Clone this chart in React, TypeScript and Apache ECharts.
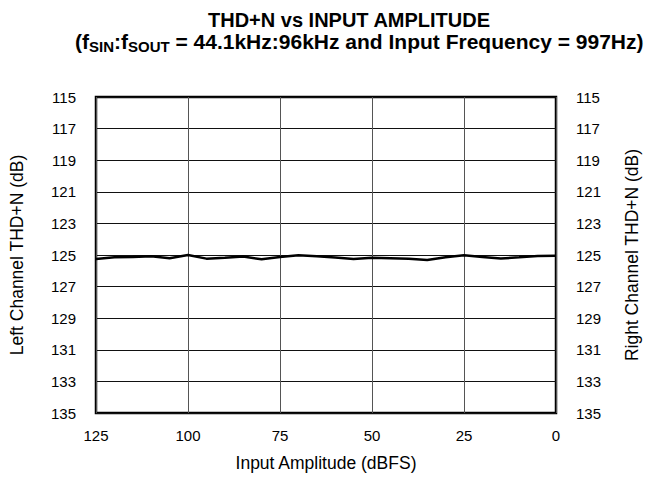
import React, { useEffect, useRef } from "react";
import * as echarts from "echarts";

const amplitudes = [125, 120, 115, 110, 105, 100, 95, 90, 85, 80, 75, 70, 65, 60, 55, 50, 45, 40, 35, 30, 25, 20, 15, 10, 5, 0];
const thdn = [125.25, 125.15, 125.12, 125.08, 125.2, 125.0, 125.23, 125.18, 125.1, 125.27, 125.12, 125.02, 125.08, 125.16, 125.25, 125.18, 125.2, 125.23, 125.32, 125.14, 125.02, 125.12, 125.22, 125.15, 125.06, 125.04];

const titleLine1 = "THD+N vs INPUT AMPLITUDE";
const titleLine2 = "{n|(f}{s|SIN}{n|:f}{s|SOUT}{n| = 44.1kHz:96kHz and Input Frequency = 997Hz)}";
const xName = "Input Amplitude (dBFS)";
const yLeftName = "Left Channel THD+N (dB)";
const yRightName = "Right Channel THD+N (dB)";

const FONT = "'Liberation Sans', Arial, Helvetica, sans-serif";

export default function App() {
  const ref = useRef<HTMLDivElement>(null);
  useEffect(() => {
    if (!ref.current) return;
    const chart = echarts.init(ref.current, undefined, { renderer: "svg" });
    const yAxisBase = {
      type: "value" as const,
      inverse: true,
      min: 115,
      max: 135,
      interval: 2,
      nameLocation: "middle" as const,
      nameRotate: 90,
      nameTextStyle: { fontSize: 17.5, color: "#000", fontFamily: FONT },
      axisLine: { show: false },
      axisTick: { show: false },
      axisLabel: { fontSize: 15, color: "#000", fontFamily: FONT, margin: 20 },
    };
    chart.setOption({
      animation: false,
      backgroundColor: "#fff",
      title: [
        {
          text: titleLine1,
          left: 203,
          top: 5,
          textStyle: { fontSize: 20, fontWeight: "bold", color: "#000", fontFamily: FONT },
        },
        {
          text: titleLine2,
          left: 70,
          top: 26,
          textStyle: {
            fontSize: 21,
            fontWeight: "bold",
            color: "#000",
            fontFamily: FONT,
            rich: {
              n: { fontSize: 21, fontWeight: "bold", fontFamily: FONT, color: "#000", verticalAlign: "top", lineHeight: 23 },
              s: { fontSize: 15, fontWeight: "bold", fontFamily: FONT, color: "#000", verticalAlign: "bottom", lineHeight: 15, padding: [11, 0, 0, 0] },
            },
          },
        },
      ],
      grid: {
        left: 93,
        right: 85,
        top: 97,
        bottom: 62,
        show: true,
        borderColor: "#000",
        borderWidth: 2.5,
        backgroundColor: "transparent",
      },
      xAxis: {
        type: "value",
        inverse: true,
        min: 0,
        max: 125,
        interval: 25,
        name: xName,
        nameLocation: "middle",
        nameGap: 41,
        nameTextStyle: { fontSize: 17.5, color: "#000", fontFamily: FONT },
        axisLine: { show: false },
        axisTick: { show: false },
        axisLabel: { fontSize: 15, color: "#000", fontFamily: FONT, margin: 15 },
        splitLine: { show: true, lineStyle: { color: "#555", width: 1 } },
      },
      yAxis: [
        {
          ...yAxisBase,
          position: "left",
          name: yLeftName,
          nameGap: 70,
          splitLine: { show: true, lineStyle: { color: "#111", width: 1 } },
        },
        {
          ...yAxisBase,
          position: "right",
          name: yRightName,
          nameGap: 67,
          splitLine: { show: false },
        },
      ],
      series: [
        {
          type: "line",
          yAxisIndex: 0,
          data: amplitudes.map((a, i) => [a, thdn[i]]),
          showSymbol: false,
          symbol: "none",
          lineStyle: { color: "#000", width: 2.5 },
          z: 5,
        },
      ],
    });
    return () => chart.dispose();
  }, []);
  return <div ref={ref} style={{ position: "fixed", left: 0, top: 0, width: 649, height: 477 }} />;
}
